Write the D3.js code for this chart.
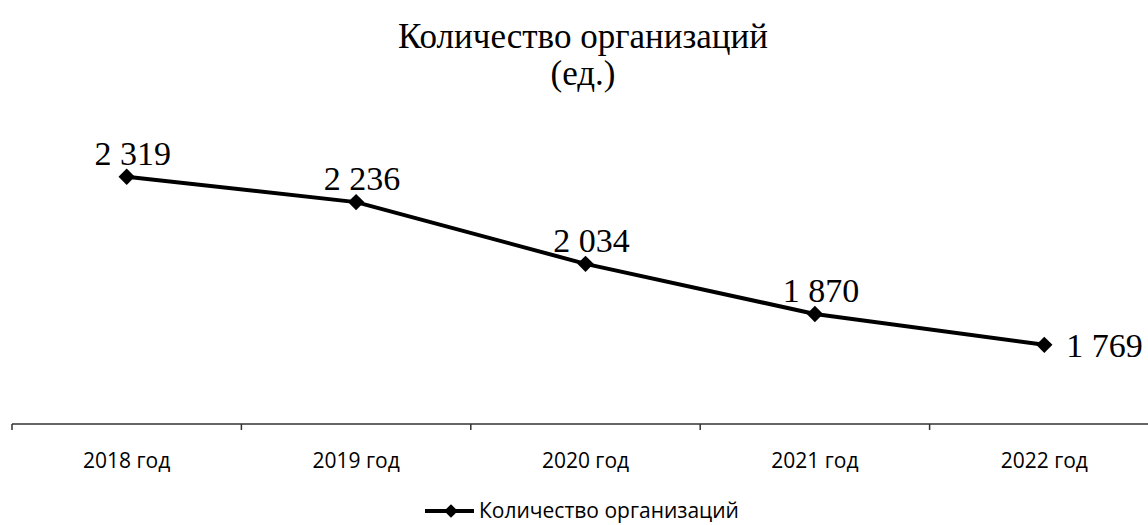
<!DOCTYPE html>
<html lang="ru">
<head>
<meta charset="UTF-8">
<title>Количество организаций</title>
<script src="https://d3js.org/d3.v7.min.js"></script>
<style>
    body { margin: 0; background: #fff; }
    .title { font-family: "Liberation Serif", "DejaVu Serif", serif; font-size: 35px; fill: #000; }
    .val { font-family: "Liberation Serif", "DejaVu Serif", serif; font-size: 34px; fill: #000; }
    .axis text { font-family: "Open Sans", "Noto Sans", sans-serif; font-size: 21px; fill: #000; }
    .legend text { font-family: "Open Sans", "Noto Sans", sans-serif; font-size: 21px; fill: #000; }
</style>
</head>
<body>
<svg width="1148" height="525"></svg>
<script>
var years = ["2018 год", "2019 год", "2020 год", "2021 год", "2022 год"];
var counts = [2319, 2236, 2034, 1870, 1769];
var labels = ["2 319", "2 236", "2 034", "1 870", "1 769"];
var seriesName = "Количество организаций";

var svg = d3.select("svg");

var x = d3.scaleBand().domain(years).range([12, 1159]);
var y = d3.scaleLinear().domain([1510, 2400]).range([424, 152]);

// заголовок
svg.append("text").attr("class", "title").attr("x", 583).attr("y", 48)
   .attr("text-anchor", "middle").text("Количество организаций");
svg.append("text").attr("class", "title").attr("x", 583).attr("y", 85)
   .attr("text-anchor", "middle").text("(ед.)");

// ось X
var axis = svg.append("g").attr("class", "axis").attr("transform", "translate(0,424)");
axis.append("line").attr("x1", 12).attr("x2", 1148).attr("y1", 0).attr("y2", 0)
    .attr("stroke", "#333").attr("stroke-width", 1.5);
axis.selectAll(".tk").data(years).enter().append("line")
    .attr("x1", function(d) { return x(d); }).attr("x2", function(d) { return x(d); })
    .attr("y1", 0).attr("y2", 6).attr("stroke", "#333").attr("stroke-width", 1.5);
axis.selectAll(".lbl").data(years).enter().append("text")
    .attr("x", function(d) { return x(d) + x.bandwidth() / 2; })
    .attr("y", 44).attr("text-anchor", "middle").text(function(d) { return d; });

var cx = function(d, i) { return x(years[i]) + x.bandwidth() / 2; };
var last = counts.length - 1;

var line = d3.line()
    .x(function(d, i) { return cx(d, i); })
    .y(function(d) { return y(d); });

svg.append("path").datum(counts).attr("d", line)
   .attr("fill", "none").attr("stroke", "#000").attr("stroke-width", 4)
   .attr("stroke-linejoin", "round");

var diamond = d3.symbol().type(d3.symbolDiamond2).size(170);

svg.selectAll(".pt").data(counts).enter().append("path")
   .attr("d", diamond)
   .attr("transform", function(d, i) { return "translate(" + cx(d, i) + "," + y(d) + ")"; })
   .attr("fill", "#000");

svg.selectAll(".val").data(counts).enter().append("text")
   .attr("class", "val")
   .attr("x", function(d, i) { return i === last ? cx(d, i) + 22 : cx(d, i) + 6; })
   .attr("y", function(d, i) { return i === last ? y(d) + 12 : y(d) - 12; })
   .attr("text-anchor", function(d, i) { return i === last ? "start" : "middle"; })
   .text(function(d, i) { return labels[i]; });

// легенда
var lg = svg.append("g").attr("class", "legend").attr("transform", "translate(0,511)");
lg.append("line").attr("x1", 425).attr("x2", 474).attr("y1", 0).attr("y2", 0)
  .attr("stroke", "#000").attr("stroke-width", 4);
lg.append("path").attr("d", d3.symbol().type(d3.symbolDiamond2).size(120))
  .attr("transform", "translate(451,0)").attr("fill", "#000");
lg.append("text").attr("x", 479).attr("y", 7).text(seriesName);
</script>
</body>
</html>
